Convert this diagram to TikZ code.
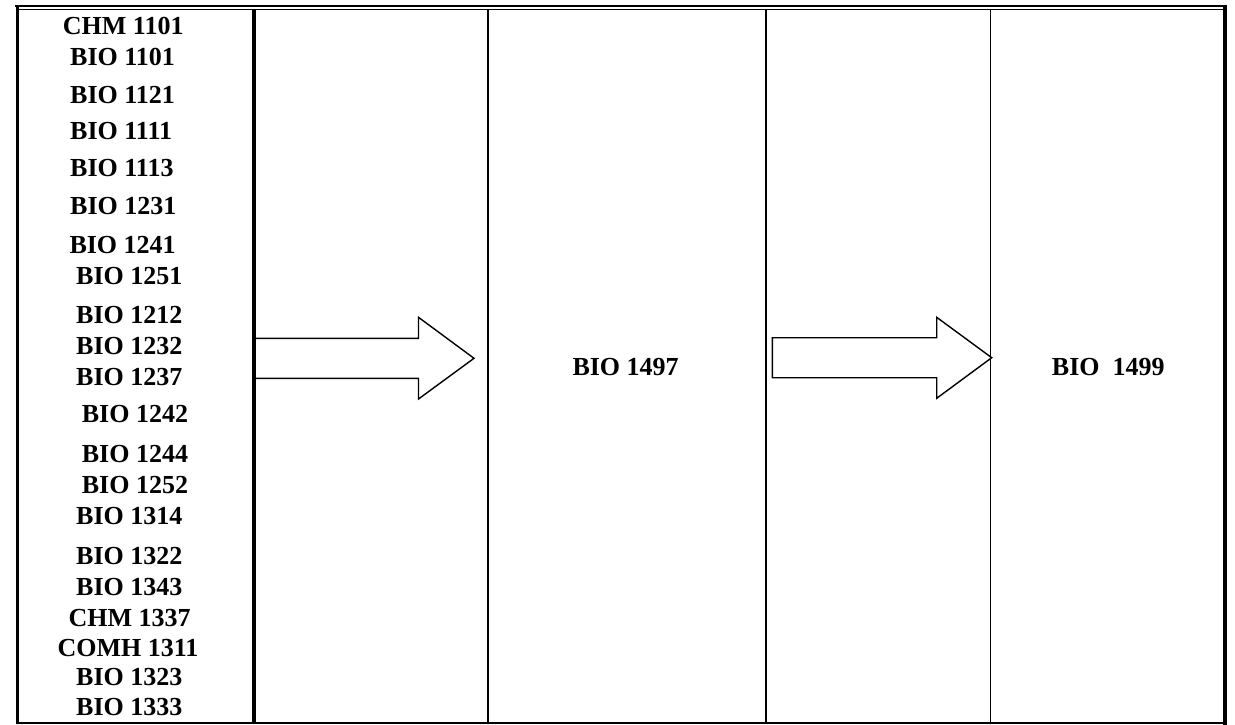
\documentclass[tikz,border=0pt]{standalone}
\usepackage{fontspec}
\setmainfont{Liberation Serif}
\begin{document}
\begin{tikzpicture}[x=1pt,y=-1pt,
  course/.style={font=\fontsize{26}{30}\selectfont\bfseries, inner sep=0pt, anchor=base west},
  blockarrow/.style={draw, line width=1.4pt, fill=white, line join=miter},
  heavyrule/.style={line width=3.6pt},
  toprule/.style={line width=2.3pt},
  lightrule/.style={line width=1.3pt}]
\useasboundingbox (0,0) rectangle (1235,725);
\fill[white] (0,0) rectangle (1235,725);
% block arrows
\coordinate (a1s) at (254,338.3);
\coordinate (a1e) at (254,378.3);
\draw[blockarrow] (a1s) -- (418.5,338.3) -- (418.5,317.3) -- (474,358.3) -- (418.5,399) -- (418.5,378.3) -- (a1e);
\draw[blockarrow] (772.3,337.7) -- (936.7,337.7) -- (936.7,317.3) -- (991.7,357.7) -- (936.7,398.3) -- (936.7,377.7) -- (772.3,377.7) -- cycle;
% table rules
\draw[toprule] (15,6) -- (1227,6);
\draw[lightrule] (19,9.5) -- (1223,9.5);
\draw[line width=3pt] (17.5,6) -- (17.5,724);
\draw[heavyrule] (254,9.5) -- (254,724);
\draw[line width=1.6pt] (488,9.5) -- (488,723);
\draw[line width=1.6pt] (766,9.5) -- (766,723);
\draw[line width=1.6pt] (990.5,9.5) -- (990.5,723);
\draw[line width=4pt] (1225,5) -- (1225,725);
\draw[line width=1.6pt] (17.5,723) -- (1225,723);
% texts
\node[course] (c1) at (62.7,34.3) {CHM 1101};
\node[course] (c2) at (70,65.7) {BIO 1101};
\node[course] (c3) at (70,103.3) {BIO 1121};
\node[course] (c4) at (70,139.3) {BIO 1111};
\node[course] (c5) at (70,176.7) {BIO 1113};
\node[course] (c6) at (70,214.3) {BIO 1231};
\node[course] (c7) at (69.3,253.3) {BIO 1241};
\node[course] (c8) at (76,284) {BIO 1251};
\node[course] (c9) at (76,323.3) {BIO 1212};
\node[course] (c10) at (76,354.3) {BIO 1232};
\node[course] (c11) at (76,385.7) {BIO 1237};
\node[course] (c12) at (81.7,422.3) {BIO 1242};
\node[course] (c13) at (81.7,462.7) {BIO 1244};
\node[course] (c14) at (81.7,493.3) {BIO 1252};
\node[course] (c15) at (76,524) {BIO 1314};
\node[course] (c16) at (76,564) {BIO 1322};
\node[course] (c17) at (76,595) {BIO 1343};
\node[course] (c18) at (68.3,626) {CHM 1337};
\node[course] (c19) at (57.3,656) {COMH 1311};
\node[course] (c20) at (76,685.7) {BIO 1323};
\node[course] (c21) at (76,715.7) {BIO 1333};
\node[course] (b1497) at (572.3,375) {BIO 1497};
\node[course] (b1499) at (1051.7,375) {BIO~~1499};
\end{tikzpicture}
\end{document}
